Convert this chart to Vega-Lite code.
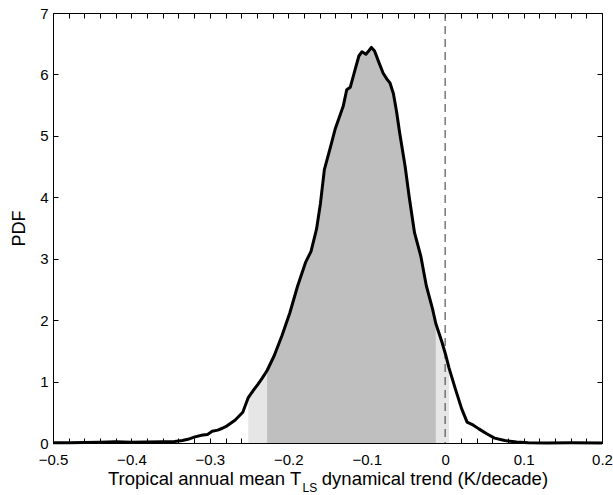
{
  "$schema": "https://vega.github.io/schema/vega-lite/v6.json",
  "width": 549,
  "height": 430,
  "autosize": {"type": "none"},
  "padding": {"left": 53, "top": 13, "right": 11, "bottom": 52},
  "background": "white",
  "config": {
    "view": {"stroke": null},
    "font": "Liberation Sans",
    "axis": {"grid": false, "domainColor": "black", "tickColor": "black", "labelColor": "black", "titleColor": "black", "titleFontWeight": "normal", "domainWidth": 1, "tickWidth": 1}
  },
  "datasets": {
    "pdf": [
      {"x": -0.5, "pdf": 0.003}, {"x": -0.48, "pdf": 0.005}, {"x": -0.46, "pdf": 0.008}, {"x": -0.44, "pdf": 0.012},
      {"x": -0.42, "pdf": 0.02}, {"x": -0.4, "pdf": 0.012}, {"x": -0.38, "pdf": 0.018}, {"x": -0.36, "pdf": 0.022},
      {"x": -0.345, "pdf": 0.025}, {"x": -0.335, "pdf": 0.04}, {"x": -0.328, "pdf": 0.06}, {"x": -0.319, "pdf": 0.1},
      {"x": -0.309, "pdf": 0.13}, {"x": -0.303, "pdf": 0.14}, {"x": -0.297, "pdf": 0.19}, {"x": -0.29, "pdf": 0.21},
      {"x": -0.284, "pdf": 0.24}, {"x": -0.278, "pdf": 0.28}, {"x": -0.268, "pdf": 0.37}, {"x": -0.258, "pdf": 0.5},
      {"x": -0.251, "pdf": 0.74}, {"x": -0.245, "pdf": 0.85}, {"x": -0.239, "pdf": 0.95}, {"x": -0.233, "pdf": 1.06},
      {"x": -0.227, "pdf": 1.18}, {"x": -0.218, "pdf": 1.42}, {"x": -0.208, "pdf": 1.75}, {"x": -0.198, "pdf": 2.12},
      {"x": -0.188, "pdf": 2.56}, {"x": -0.178, "pdf": 2.94}, {"x": -0.171, "pdf": 3.12}, {"x": -0.164, "pdf": 3.48},
      {"x": -0.159, "pdf": 3.9}, {"x": -0.154, "pdf": 4.45}, {"x": -0.146, "pdf": 4.83}, {"x": -0.14, "pdf": 5.12},
      {"x": -0.13, "pdf": 5.48}, {"x": -0.1255, "pdf": 5.75}, {"x": -0.121, "pdf": 5.79}, {"x": -0.115, "pdf": 6.07},
      {"x": -0.11, "pdf": 6.3}, {"x": -0.106, "pdf": 6.37}, {"x": -0.101, "pdf": 6.33}, {"x": -0.097, "pdf": 6.39},
      {"x": -0.094, "pdf": 6.44}, {"x": -0.09, "pdf": 6.38}, {"x": -0.084, "pdf": 6.18}, {"x": -0.079, "pdf": 6.02},
      {"x": -0.074, "pdf": 5.92}, {"x": -0.0703, "pdf": 5.86}, {"x": -0.066, "pdf": 5.69}, {"x": -0.062, "pdf": 5.4},
      {"x": -0.058, "pdf": 5.05}, {"x": -0.051, "pdf": 4.5}, {"x": -0.046, "pdf": 4.02}, {"x": -0.039, "pdf": 3.42},
      {"x": -0.031, "pdf": 3.04}, {"x": -0.024, "pdf": 2.56}, {"x": -0.016, "pdf": 2.18}, {"x": -0.012, "pdf": 1.95},
      {"x": -0.004, "pdf": 1.64}, {"x": 0.001, "pdf": 1.42}, {"x": 0.005, "pdf": 1.22}, {"x": 0.013, "pdf": 0.88},
      {"x": 0.021, "pdf": 0.56}, {"x": 0.028, "pdf": 0.34}, {"x": 0.036, "pdf": 0.29}, {"x": 0.043, "pdf": 0.23},
      {"x": 0.053, "pdf": 0.15}, {"x": 0.063, "pdf": 0.08}, {"x": 0.076, "pdf": 0.04}, {"x": 0.091, "pdf": 0.016},
      {"x": 0.106, "pdf": 0.005}, {"x": 0.13, "pdf": 0.002}, {"x": 0.16, "pdf": 0.003}, {"x": 0.2, "pdf": 0.002}
    ],
    "zero": [{"x": 0}]
  },
  "layer": [
    {
      "data": {"name": "pdf"},
      "transform": [{"filter": "datum.x >= -0.2515 && datum.x <= 0.0055"}],
      "mark": {"type": "area", "color": "#e6e6e6"},
      "encoding": {
        "x": {
          "field": "x", "type": "quantitative",
          "scale": {"domain": [-0.5, 0.2], "nice": false, "zero": false},
          "axis": {
            "orient": "bottom",
            "values": [-0.5,-0.48,-0.46,-0.44,-0.42,-0.4,-0.38,-0.36,-0.34,-0.32,-0.3,-0.28,-0.26,-0.24,-0.22,-0.2,-0.18,-0.16,-0.14,-0.12,-0.1,-0.08,-0.06,-0.04,-0.02,0,0.02,0.04,0.06,0.08,0.1,0.12,0.14,0.16,0.18,0.2],
            "tickSize": -5,
            "labelPadding": 14,
            "labelFontSize": 15,
            "labelFlush": false,
            "labelOverlap": false,
            "labelExpr": "abs(datum.value*10 - round(datum.value*10)) < 0.001 ? (datum.value == 0 ? '0' : format(datum.value, '.1f')) : ''",
            "title": "Tropical annual mean T\u00a0\u00a0\u00a0\u00a0dynamical trend (K/decade)",
            "titleFontSize": 18.5,
            "titleX": 274.5,
            "titleY": 41,
            "titleAlign": "center",
            "titleBaseline": "alphabetic"
          }
        },
        "y": {
          "field": "pdf", "type": "quantitative",
          "scale": {"domain": [0, 7], "nice": false},
          "axis": {
            "orient": "left",
            "values": [0, 1, 2, 3, 4, 5, 6, 7],
            "format": "d",
            "tickSize": -5,
            "labelPadding": 10,
            "labelFontSize": 15,
            "labelFlush": false,
            "labelOverlap": false,
            "title": "PDF",
            "titleFontSize": 18,
            "titleX": -34,
            "titleY": 215,
            "titleAngle": -90,
            "titleAlign": "center",
            "titleBaseline": "middle"
          }
        }
      }
    },
    {
      "data": {"name": "pdf"},
      "transform": [{"filter": "datum.x >= -0.2275 && datum.x <= -0.0115"}],
      "mark": {"type": "area", "color": "#bfbfbf"},
      "encoding": {
        "x": {"field": "x", "type": "quantitative", "axis": null},
        "y": {"field": "pdf", "type": "quantitative", "axis": null}
      }
    },
    {
      "data": {"name": "zero"},
      "mark": {"type": "rule", "color": "#555555", "strokeWidth": 1.2, "strokeDash": [8, 5]},
      "encoding": {
        "x": {"field": "x", "type": "quantitative", "axis": null}
      }
    },
    {
      "data": {"name": "pdf"},
      "mark": {"type": "line", "color": "black", "strokeWidth": 3, "strokeJoin": "round"},
      "encoding": {
        "x": {
          "field": "x", "type": "quantitative",
          "axis": {
            "orient": "top",
            "values": [-0.5,-0.48,-0.46,-0.44,-0.42,-0.4,-0.38,-0.36,-0.34,-0.32,-0.3,-0.28,-0.26,-0.24,-0.22,-0.2,-0.18,-0.16,-0.14,-0.12,-0.1,-0.08,-0.06,-0.04,-0.02,0,0.02,0.04,0.06,0.08,0.1,0.12,0.14,0.16,0.18,0.2],
            "tickSize": -5,
            "labels": false,
            "title": "LS",
            "titleFontSize": 12,
            "titleX": 249,
            "titleY": 478,
            "titleAlign": "left",
            "titleBaseline": "alphabetic"
          }
        },
        "y": {
          "field": "pdf", "type": "quantitative",
          "axis": {
            "orient": "right",
            "values": [0, 1, 2, 3, 4, 5, 6, 7],
            "tickSize": -5,
            "labels": false,
            "title": null
          }
        }
      }
    }
  ],
  "resolve": {"axis": {"x": "independent", "y": "independent"}}
}
